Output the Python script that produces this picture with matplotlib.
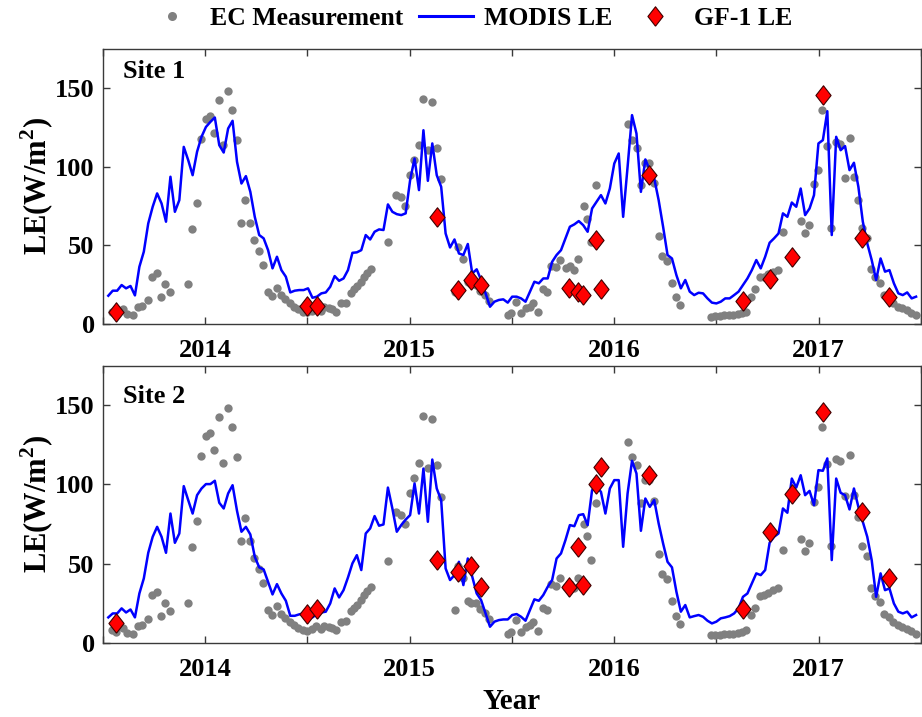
import numpy as np
import matplotlib
matplotlib.use("Agg")
import matplotlib.pyplot as plt
from matplotlib.lines import Line2D

plt.rcParams['font.family'] = ['Liberation Serif', 'DejaVu Serif']
plt.rcParams['font.weight'] = 'bold'
plt.rcParams['mathtext.fontset'] = 'custom'
plt.rcParams['mathtext.rm'] = 'Liberation Serif:bold'
plt.rcParams['mathtext.bf'] = 'Liberation Serif:bold'

# ---------------- data ----------------
# EC measurements (same tower record shown in both panels)
ec_year = [2013.542, 2013.565, 2013.599, 2013.619, 2013.648, 2013.672, 2013.693, 2013.718, 2013.742, 2013.762,
           2013.783, 2013.805, 2013.826, 2013.916, 2013.937, 2013.959, 2013.981, 2014.002, 2014.021, 2014.042,
           2014.065, 2014.086, 2014.110, 2014.131, 2014.156, 2014.177, 2014.196, 2014.219, 2014.240, 2014.261,
           2014.284, 2014.305, 2014.326, 2014.349, 2014.370, 2014.391, 2014.414, 2014.435, 2014.456, 2014.479,
           2014.500, 2014.520, 2014.543, 2014.564, 2014.582, 2014.606, 2014.622, 2014.638, 2014.663, 2014.687,
           2014.711, 2014.727, 2014.744, 2014.760, 2014.776, 2014.792, 2014.809, 2014.893, 2014.935, 2014.958,
           2014.979, 2015.000, 2015.019, 2015.044, 2015.065, 2015.088, 2015.109, 2015.133, 2015.154, 2015.219,
           2015.238, 2015.260, 2015.283, 2015.302, 2015.326, 2015.345, 2015.369, 2015.390, 2015.482, 2015.497,
           2015.521, 2015.546, 2015.570, 2015.586, 2015.603, 2015.627, 2015.651, 2015.672, 2015.692, 2015.716,
           2015.737, 2015.765, 2015.784, 2015.805, 2015.825, 2015.851, 2015.867, 2015.886, 2015.911, 2016.065,
           2016.089, 2016.110, 2016.130, 2016.151, 2016.170, 2016.195, 2016.219, 2016.235, 2016.260, 2016.281,
           2016.300, 2016.321, 2016.474, 2016.495, 2016.516, 2016.539, 2016.560, 2016.581, 2016.603, 2016.624,
           2016.646, 2016.667, 2016.689, 2016.713, 2016.732, 2016.753, 2016.775, 2016.802, 2016.823, 2016.911,
           2016.932, 2016.953, 2016.976, 2016.997, 2017.018, 2017.041, 2017.062, 2017.083, 2017.105, 2017.127,
           2017.151, 2017.170, 2017.191, 2017.213, 2017.236, 2017.256, 2017.277, 2017.300, 2017.321, 2017.342,
           2017.365, 2017.386, 2017.407, 2017.430, 2017.451, 2017.475]
ec_le = [7.8, 7.0, 9.3, 6.4, 5.7, 10.6, 11.4, 15.2, 30.1, 32.2,
         16.9, 25.4, 20.1, 25.4, 60.2, 76.7, 118.0, 130.7, 132.2, 121.6,
         142.3, 113.7, 148.3, 136.0, 117.3, 64.4, 78.8, 64.4, 53.4, 46.6,
         37.5, 20.5, 17.8, 23.1, 18.4, 15.7, 13.1, 11.0, 9.3, 7.8,
         7.5, 8.5, 10.5, 8.5, 10.6, 10.0, 9.3, 7.8, 13.1, 13.6,
         19.9, 22.0, 24.1, 26.9, 30.1, 32.6, 34.9, 51.9, 82.4, 80.9,
         75.2, 94.7, 104.2, 113.7, 143.4, 110.6, 141.3, 112.3, 92.1, 20.5,
         48.7, 41.1, 26.5, 25.2, 24.8, 21.0, 18.5, 14.7, 5.7, 6.8,
         14.2, 6.8, 10.0, 11.0, 13.1, 7.4, 22.0, 20.5, 36.9, 36.0,
         40.7, 35.4, 36.9, 34.3, 41.1, 75.2, 67.1, 52.3, 88.3, 127.1,
         117.3, 112.3, 88.3, 102.5, 102.5, 89.8, 55.9, 43.2, 40.0, 26.3,
         16.9, 12.1, 4.7, 5.1, 5.1, 5.5, 5.5, 5.7, 6.4, 6.8,
         7.8, 17.4, 22.0, 29.7, 30.1, 31.6, 33.3, 34.3, 58.7, 65.4,
         58.0, 62.9, 89.0, 98.3, 136.0, 113.1, 61.2, 115.9, 114.8, 92.6,
         118.6, 93.6, 79.2, 61.0, 54.7, 34.7, 29.7, 25.8, 18.4, 16.3,
         13.1, 11.0, 10.0, 8.9, 7.2, 5.7]

# MODIS 8-day LE, first and last composite dates
modis_first, modis_last = 2013.526, 2017.476
modis_site1 = [18.0, 21.2, 21.2, 24.8, 22.7, 24.2, 18.2, 36.4, 46.0, 64.0,
               74.6, 83.1, 76.7, 65.1, 93.7, 71.4, 78.8, 112.7, 104.3, 94.7,
               109.6, 119.1, 125.4, 128.6, 131.4, 113.8, 109.1, 124.4, 129.3, 103.2,
               89.4, 94.1, 84.1, 68.2, 56.6, 54.5, 47.0, 35.4, 42.8, 34.3,
               30.1, 20.1, 21.2, 21.6, 21.6, 22.7, 16.7, 17.4, 19.5, 20.1,
               23.7, 30.5, 27.5, 29.0, 34.3, 45.3, 45.6, 47.0, 56.6, 53.8,
               58.7, 60.2, 59.8, 76.1, 71.4, 69.9, 69.3, 70.4, 91.5, 105.3,
               85.2, 123.3, 91.1, 114.9, 94.7, 87.3, 57.6, 48.7, 53.8, 44.9,
               43.9, 50.9, 32.2, 34.8, 28.0, 19.5, 11.0, 14.2, 15.3, 15.7,
               13.6, 17.4, 17.4, 16.3, 14.2, 20.6, 26.9, 25.9, 29.0, 29.0,
               39.6, 43.9, 47.0, 54.5, 61.9, 63.4, 65.5, 62.9, 58.7, 73.5,
               77.8, 82.0, 76.7, 86.2, 102.1, 108.5, 68.2, 100.0, 132.9, 121.2,
               84.1, 104.7, 97.9, 92.6, 78.8, 61.9, 43.9, 41.7, 31.1, 22.7,
               28.0, 20.6, 18.4, 19.9, 19.5, 16.3, 13.6, 13.1, 14.2, 16.3,
               16.3, 18.4, 20.6, 24.8, 29.0, 34.3, 40.7, 35.4, 42.8, 51.7,
               54.5, 57.6, 70.4, 68.2, 77.3, 74.6, 86.2, 69.3, 73.5, 82.0,
               114.9, 117.0, 135.4, 56.6, 119.1, 110.6, 113.2, 97.9, 102.6, 87.3,
               65.1, 51.3, 40.7, 28.0, 41.7, 33.3, 34.3, 25.9, 19.5, 18.4,
               20.1, 16.3, 17.4]
modis_site2 = [16.0, 18.5, 18.5, 21.7, 19.1, 21.0, 16.0, 31.1, 40.6, 56.8,
               66.9, 73.2, 66.9, 56.8, 81.6, 63.1, 69.0, 98.9, 90.1, 81.6,
               93.2, 97.4, 100.2, 100.2, 102.3, 88.4, 84.8, 94.3, 99.5, 83.3,
               70.1, 73.2, 68.4, 54.3, 47.6, 46.3, 38.5, 30.5, 37.0, 31.1,
               26.5, 17.0, 17.0, 17.9, 18.5, 19.6, 16.0, 18.1, 19.1, 19.6,
               24.8, 34.3, 28.6, 33.2, 41.2, 50.1, 55.3, 45.9, 69.0, 72.2,
               80.0, 73.9, 74.7, 98.0, 84.8, 70.1, 74.3, 77.8, 80.6, 100.6,
               81.6, 110.0, 76.4, 115.7, 97.4, 90.1, 46.9, 39.6, 42.7, 51.1,
               36.4, 53.2, 41.7, 31.1, 26.9, 18.5, 10.1, 13.3, 14.3, 14.7,
               14.7, 17.5, 18.1, 16.4, 13.9, 20.6, 27.4, 26.5, 30.1, 35.3,
               39.6, 53.2, 56.4, 64.8, 74.3, 73.6, 80.6, 81.2, 74.3, 96.4,
               98.5, 95.3, 81.6, 97.4, 102.7, 102.7, 60.6, 94.3, 114.9, 106.9,
               70.7, 91.1, 85.8, 90.1, 75.3, 62.7, 51.1, 47.6, 32.2, 19.6,
               23.8, 16.0, 16.8, 17.5, 16.4, 13.9, 12.2, 13.3, 15.4, 16.0,
               16.8, 18.5, 21.7, 29.0, 31.1, 37.5, 43.8, 42.7, 45.9, 63.1,
               66.9, 69.0, 84.8, 82.1, 103.7, 98.0, 105.8, 93.2, 95.9, 86.9,
               109.0, 108.6, 116.4, 52.2, 103.7, 94.7, 93.2, 84.2, 97.4, 85.8,
               76.4, 66.9, 52.2, 29.0, 43.8, 33.2, 34.3, 24.8, 19.6, 18.5,
               19.6, 16.0, 17.5]

# GF-1 LE
gf_year = [2013.565, 2014.500, 2014.546, 2015.133, 2015.237, 2015.302, 2015.350, 2015.781, 2015.823,
           2015.849, 2015.912, 2015.935, 2016.172, 2016.630, 2016.760, 2016.868, 2017.020, 2017.214, 2017.346]
gf_site1 = [7.8, 11.4, 11.4, 68.2, 21.6, 28.0, 24.8, 23.2, 20.2,
            18.4, 53.2, 22.0, 94.7, 14.5, 28.7, 42.4, 145.5, 54.8, 17.2]
gf_site2 = [12.2, 18.1, 21.0, 52.2, 44.8, 48.4, 35.3, 35.3, 60.6,
            36.4, 100.2, 110.7, 105.8, 21.0, 70.1, 93.8, 145.8, 82.7, 40.6]

site_names = ['Site 1', 'Site 2']
year_ticks = [2014, 2015, 2016, 2017]
y_ticks = [0, 50, 100, 150]

# ---------------- plot ----------------
modis_year = np.linspace(modis_first, modis_last, len(modis_site1))
diamond = [(0, -1), (0.78, 0), (0, 1), (-0.78, 0), (0, -1)]
spine_col = '#3a3a3a'

fig = plt.figure(figsize=(9.22, 7.17), dpi=100)
ax1 = fig.add_axes([0.1117, 0.5481, 0.8872, 0.3836])
ax2 = fig.add_axes([0.1117, 0.1036, 0.8872, 0.3864])

xt = np.arange(2013.5, 2017.6, 0.5)
for ax, modis, gf, name, ty in [(ax1, modis_site1, gf_site1, site_names[0], 0.893),
                                 (ax2, modis_site2, gf_site2, site_names[1], 0.866)]:
    ax.plot(ec_year, ec_le, 'o', color='#808080', ms=6, mec='none', zorder=2)
    ax.plot(modis_year, modis, '-', color='#0000ff', lw=1.8, zorder=3)
    ax.plot(gf_year, gf, ls='none', marker=diamond, ms=14, mfc='#ff0000',
            mec='#400000', mew=0.8, zorder=4)
    ax.set_xlim(2013.5, 2017.48)
    ax.set_ylim(0, 175)
    ax.set_xticks(xt)
    ax.set_xticklabels([str(int(t)) if float(t).is_integer() and int(t) in year_ticks else ''
                        for t in xt])
    ax.set_yticks(y_ticks)
    ax.tick_params(direction='in', length=5, width=1, color=spine_col,
                   top=True, right=True, labelsize=19)
    ax.tick_params(axis='x', pad=11)
    ax.tick_params(axis='y', pad=6)
    for s in ax.spines.values():
        s.set_color(spine_col)
        s.set_linewidth(1.0)
    ax.set_ylabel(r'LE(W/m$^\mathbf{2}$)', fontsize=22, fontweight='bold', labelpad=-1)
    ax.text(0.025, ty, name, transform=ax.transAxes, fontsize=19, fontweight='bold',
            ha='left', va='baseline')
    for lab in ax.get_xticklabels() + ax.get_yticklabels():
        lab.set_fontweight('bold')

ax2.set_xlabel('Year', fontsize=21, fontweight='bold', labelpad=5)

handles = [Line2D([], [], ls='none', marker='o', color='#808080', ms=6.5, mec='none'),
           Line2D([], [], color='#0000ff', lw=2.2),
           Line2D([], [], ls='none', marker=diamond, ms=14, mfc='#ff0000', mec='#400000', mew=0.8)]
fig.legend(handles, ['EC Measurement', 'MODIS LE', 'GF-1 LE'], loc='center',
           bbox_to_anchor=(0.508, 0.974), ncol=3, frameon=False,
           handlelength=2.1, handletextpad=0.45, columnspacing=0.6,
           prop={'weight': 'bold', 'size': 18.5})

fig.savefig('out.png', dpi=100)
